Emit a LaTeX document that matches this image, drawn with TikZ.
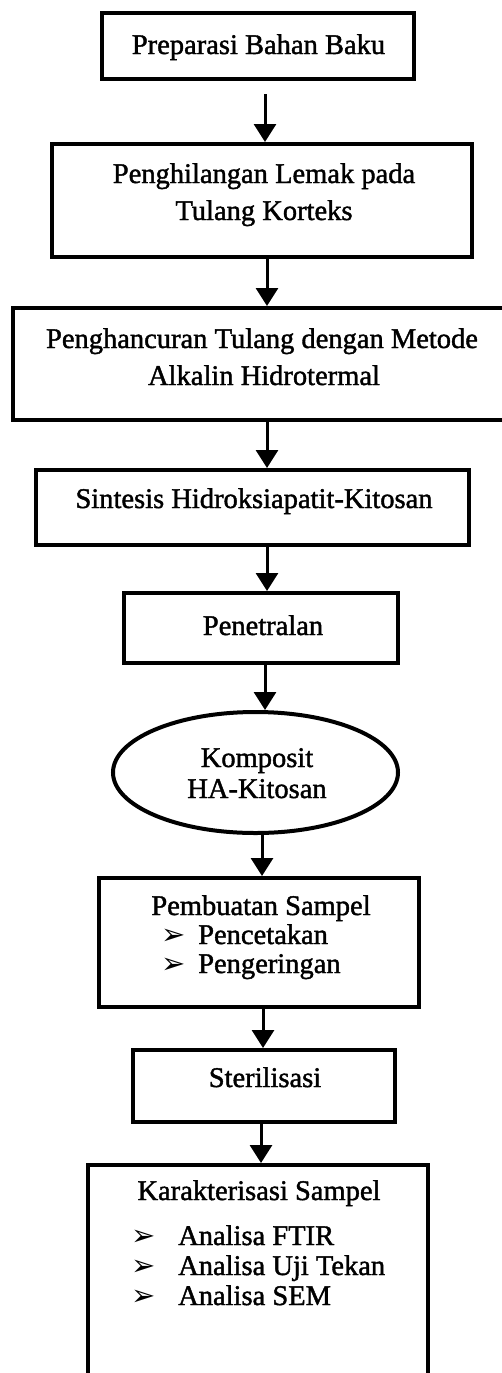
\documentclass[tikz,border=0pt]{standalone}
\usepackage{fontspec}
\setmainfont{Liberation Serif}[FakeBold=1.4]
\newfontfamily\symfont{DejaVu Sans}
\usetikzlibrary{arrows.meta,shapes.geometric}
\begin{document}
\begin{tikzpicture}[x=1pt,y=-1pt,
  box/.style={draw, line width=4pt, rectangle, inner sep=0pt},
  oval/.style={draw, line width=4pt, ellipse, inner sep=0pt},
  txt/.style={anchor=base, inner sep=0pt, font=\fontsize{28.5}{34}\selectfont},
  itm/.style={anchor=base west, inner sep=0pt, font=\fontsize{28.5}{34}\selectfont},
  bul/.style={anchor=base west, inner sep=0pt, font=\symfont\fontsize{29}{34}\selectfont},
  arr/.style={line width=3pt, -{Triangle[width=22pt,length=18pt]}}]
\useasboundingbox (0,0) rectangle (502,1373);
\fill[white] (0,0) rectangle (502,1373);

% boxes
\node[box, minimum width=312pt, minimum height=66pt] (b1) at (258,46) {};
\node[box, minimum width=420pt, minimum height=113pt] (b2) at (262,200.5) {};
\node[box, minimum width=497pt, minimum height=112pt] (b3) at (261.5,364) {};
\node[box, minimum width=433pt, minimum height=75pt] (b4) at (252.5,507.5) {};
\node[box, minimum width=274pt, minimum height=70pt] (b5) at (261,628) {};
\node[oval, minimum width=285pt, minimum height=121pt] (e6) at (255.5,772.5) {};
\node[box, minimum width=320pt, minimum height=129pt] (b7) at (259,942.5) {};
\node[box, minimum width=262pt, minimum height=72pt] (b8) at (264,1086) {};
\node[box, minimum width=340pt, minimum height=235pt] (b9) at (258,1282.5) {};

% texts
\node[txt] (t1) at (258.5,54) {Preparasi Bahan Baku};
\node[txt] (t2a) at (264,183) {Penghilangan Lemak pada};
\node[txt] (t2b) at (264,220) {Tulang Korteks};
\node[txt] (t3a) at (262,348) {Penghancuran Tulang dengan Metode};
\node[txt] (t3b) at (264,385) {Alkalin Hidrotermal};
\node[txt] (t4) at (254,508) {Sintesis Hidroksiapatit-Kitosan};
\node[txt] (t5) at (263,635) {Penetralan};
\node[txt] (t6a) at (257,767) {Komposit};
\node[txt] (t6b) at (257,798) {HA-Kitosan};
\node[txt] (t7) at (261,915) {Pembuatan Sampel};
\node[bul] (u7a) at (161,944) {➢};
\node[itm] (i7a) at (198,944) {Pencetakan};
\node[bul] (u7b) at (161,973) {➢};
\node[itm] (i7b) at (198,973) {Pengeringan};
\node[txt] (t8) at (265,1087) {Sterilisasi};
\node[txt] (t9) at (259,1200) {Karakterisasi Sampel};
\node[bul] (u9a) at (131,1245) {➢};
\node[itm] (i9a) at (178,1245) {Analisa FTIR};
\node[bul] (u9b) at (131,1275) {➢};
\node[itm] (i9b) at (178,1275) {Analisa Uji Tekan};
\node[bul] (u9c) at (131,1305) {➢};
\node[itm] (i9c) at (178,1305) {Analisa SEM};

% arrow columns
\coordinate (x1) at (265,0);
\coordinate (x2) at (267,0);
\coordinate (x3) at (267,0);
\coordinate (x4) at (267,0);
\coordinate (x5) at (265,0);
\coordinate (x6) at (262,0);
\coordinate (x7) at (263,0);
\coordinate (x8) at (261,0);

\draw[arr, shorten <=13pt] (b1.south -| x1) -- (b2.north -| x1);
\draw[arr] (b2.south -| x2) -- (b3.north -| x2);
\draw[arr] (b3.south -| x3) -- (b4.north -| x3);
\draw[arr] (b4.south -| x4) -- (b5.north -| x4);
\draw[arr] (b5.south -| x5) -- (e6.north -| x5);
\draw[arr] (e6.south -| x6) -- (b7.north -| x6);
\draw[arr] (b7.south -| x7) -- (b8.north -| x7);
\draw[arr] (b8.south -| x8) -- (b9.north -| x8);
\end{tikzpicture}
\end{document}
